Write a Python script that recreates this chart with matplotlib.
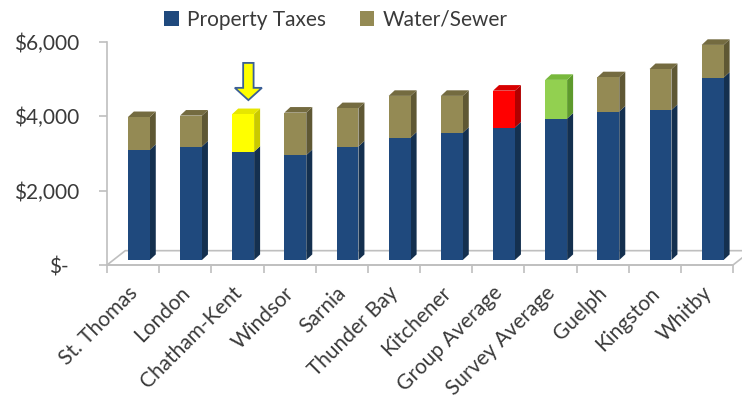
import numpy as np
import matplotlib.pyplot as plt
from matplotlib.patches import Polygon, Patch, FancyArrow
from matplotlib.transforms import ScaledTranslation

plt.rcParams['font.family'] = ['Lato', 'DejaVu Sans']

# municipal costs per household
cities = ["St. Thomas", "London", "Chatham-Kent", "Windsor", "Sarnia", "Thunder Bay",
          "Kitchener", "Group Average", "Survey Average", "Guelph", "Kingston", "Whitby"]
property_taxes = [2960, 3050, 2910, 2820, 3050, 3290, 3420, 3560, 3800, 3990, 4030, 4900]
water_sewer = [880, 830, 1010, 1140, 1030, 1120, 990, 990, 1040, 920, 1100, 880]
yticks = [0, 2000, 4000, 6000]
ytick_labels = ["$-", "$2,000", "$4,000", "$6,000"]

blue, blue_side = "#1f497d", "#14304f"
olive, olive_side, olive_top = "#948a54", "#5f5834", "#746b40"
# highlighted top segments: (front, side, top)
highlight = {
    "Chatham-Kent": ("#ffff00", "#c9c900", "#e6e600"),
    "Group Average": ("#ff0000", "#b00000", "#d80000"),
    "Survey Average": ("#92d050", "#5e9a2c", "#78b83c"),
}
grey = "#bfbfbf"
text_col = "#3a3a3a"
fs = 15

fig = plt.figure(figsize=(7.42, 4.03), dpi=100)
ax = fig.add_axes([107 / 742, 1 - 265 / 403, 626 / 742, (265 - 41.7) / 403])
ax.set_xlim(-0.5, len(cities) - 0.5)
ax.set_ylim(0, 6000)

# pseudo-3d geometry (in data units)
base = 134           # bars sit a little behind the front edge of the floor
shift = 0.11         # same for x
width = 0.42
dx, dy = 0.115, 150  # bar depth
fdx, fdy = 0.35, 385 # floor depth

# floor
floor = Polygon([(-0.5, 0), (-0.5 + fdx, fdy), (11.5 + fdx, fdy), (11.5, 0)],
                closed=True, facecolor="none", edgecolor=grey, lw=1.2, clip_on=False, zorder=1)
ax.add_patch(floor)

x = np.arange(len(cities)) + shift


def box(xc, bottom, height, side, top=None):
    xl, xr = xc - width / 2, xc + width / 2
    t = bottom + height
    ax.add_patch(Polygon([(xr, bottom), (xr + dx, bottom + dy), (xr + dx, t + dy), (xr, t)],
                         closed=True, facecolor=side, edgecolor="none", zorder=2, clip_on=False))
    if top is not None:
        ax.add_patch(Polygon([(xl, t), (xl + dx, t + dy), (xr + dx, t + dy), (xr, t)],
                             closed=True, facecolor=top, edgecolor="none", zorder=2, clip_on=False))


bottoms = np.full(len(cities), base)
ax.bar(x, property_taxes, width=width, bottom=bottoms, color=blue, zorder=3)
for i in range(len(cities)):
    box(x[i], base, property_taxes[i], blue_side)

tops = bottoms + np.array(property_taxes)
water_colors = [highlight.get(c, (olive, olive_side, olive_top)) for c in cities]
ax.bar(x, water_sewer, width=width, bottom=tops, color=[c[0] for c in water_colors], zorder=3)
for i in range(len(cities)):
    f, s, t = water_colors[i]
    box(x[i], tops[i], water_sewer[i], s, t)

# arrow pointing at Chatham-Kent
ci = cities.index("Chatham-Kent")
ax.add_patch(FancyArrow(ci + 0.21, 5430, 0, -1000, width=0.2, head_width=0.52,
                        head_length=330, length_includes_head=True,
                        facecolor="#ffff00", edgecolor="#3b5f96", lw=1.3, zorder=4, clip_on=False))

# axes styling
for side in ["top", "right", "bottom"]:
    ax.spines[side].set_visible(False)
ax.spines["left"].set_color(grey)
ax.spines["left"].set_linewidth(1.2)

ax.set_yticks(yticks)
ax.set_yticklabels([""] + ytick_labels[1:])
ax.tick_params(axis="y", length=6, color=grey, width=1.2, pad=14, labelsize=fs, labelcolor=text_col)
# accounting-style zero label, set in from the others
fig.text(49 / 742, 1 - 268 / 403, ytick_labels[0], ha="left", va="center",
         fontsize=fs, color=text_col)

ax.set_xticks(np.arange(len(cities)))
ax.set_xticklabels(cities, rotation=45, ha="right", va="center", rotation_mode="anchor")
ax.tick_params(axis="x", length=0, pad=18, labelsize=fs, labelcolor=text_col)
for t in ax.get_xticklabels():
    t.set_transform(t.get_transform() + ScaledTranslation(1 / 72, 0, fig.dpi_scale_trans))
ax.set_xticks(np.arange(len(cities) + 1) - 0.5, minor=True)
ax.tick_params(axis="x", which="minor", length=6, color=grey, width=1.2)
ax.axhline(0, color=grey, lw=1.2, zorder=1, clip_on=False)

handles = [Patch(facecolor=blue, label="Property Taxes"), Patch(facecolor=olive, label="Water/Sewer")]
fig.legend(handles=handles, loc="center", bbox_to_anchor=(336 / 742, 1 - 20 / 403), ncol=2,
           frameon=False, fontsize=fs, handlelength=0.7, handleheight=0.7, handletextpad=0.4,
           columnspacing=1.6, labelcolor=text_col)

fig.savefig("out.png", dpi=100)
